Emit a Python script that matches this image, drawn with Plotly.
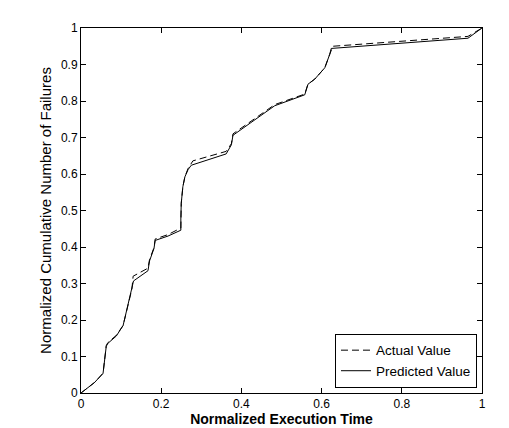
import plotly.graph_objects as go

# curve (normalized execution time vs cumulative failures)
x_actual = [0, 0.034, 0.055, 0.059, 0.063, 0.067, 0.088, 0.105, 0.117, 0.127, 0.130,
            0.167, 0.171, 0.182, 0.185, 0.217, 0.249, 0.249, 0.250, 0.254, 0.259,
            0.267, 0.279, 0.362, 0.375, 0.379, 0.483, 0.558, 0.566, 0.583, 0.608,
            0.620, 0.628, 0.965, 1.0]
y_actual = [0, 0.029, 0.054, 0.085, 0.130, 0.138, 0.158, 0.185, 0.239, 0.285, 0.320,
            0.342, 0.366, 0.398, 0.422, 0.434, 0.452, 0.484, 0.520, 0.565, 0.592,
            0.615, 0.636, 0.662, 0.683, 0.710, 0.790, 0.819, 0.846, 0.860, 0.891,
            0.927, 0.950, 0.977, 1.0]

x_pred = [0, 0.034, 0.055, 0.059, 0.063, 0.067, 0.088, 0.105, 0.117, 0.127, 0.131,
          0.167, 0.171, 0.182, 0.185, 0.217, 0.249, 0.249, 0.250, 0.254, 0.259,
          0.267, 0.275, 0.362, 0.375, 0.379, 0.483, 0.558, 0.566, 0.583, 0.608,
          0.620, 0.624, 0.965, 1.0]
y_pred = [0, 0.029, 0.054, 0.085, 0.128, 0.136, 0.156, 0.185, 0.239, 0.285, 0.307,
          0.335, 0.362, 0.396, 0.418, 0.430, 0.446, 0.480, 0.520, 0.565, 0.592,
          0.612, 0.624, 0.655, 0.680, 0.706, 0.787, 0.817, 0.846, 0.860, 0.891,
          0.927, 0.944, 0.972, 1.0]

x_ticks = [0, 0.2, 0.4, 0.6, 0.8, 1]
x_labels = ['0', '0.2', '0.4', '0.6', '0.8', '1']
y_ticks = [0, 0.1, 0.2, 0.3, 0.4, 0.5, 0.6, 0.7, 0.8, 0.9, 1]
y_labels = ['0', '0.1', '0.2', '0.3', '0.4', '0.5', '0.6', '0.7', '0.8', '0.9', '1']

font = 'Arial, Liberation Sans, sans-serif'

fig = go.Figure()
fig.add_trace(go.Scatter(x=x_actual, y=y_actual, mode='lines', name='Actual Value',
                         line=dict(color='black', width=1, dash='7px,4px')))
fig.add_trace(go.Scatter(x=x_pred, y=y_pred, mode='lines', name='Predicted Value',
                         line=dict(color='black', width=1)))

axis_style = dict(showgrid=False, zeroline=False, showline=True, linecolor='black',
                  linewidth=1, mirror='ticks', ticks='inside', ticklen=5,
                  tickcolor='black', tickfont=dict(family=font, size=12, color='black'))

fig.update_xaxes(range=[0, 1], tickvals=x_ticks, ticktext=x_labels,
                 title=dict(text='<b>Normalized Execution Time</b>', standoff=3,
                            font=dict(family=font, size=14, color='black')),
                 **axis_style)
fig.update_yaxes(range=[0, 1], tickvals=y_ticks, ticktext=y_labels,
                 title=dict(text='Normalized Cumulative Number of Failures', standoff=5,
                            font=dict(family=font, size=15, color='black')),
                 **axis_style)

fig.update_layout(
    width=509, height=428,
    margin=dict(l=73, r=35, t=20, b=40),
    plot_bgcolor='white', paper_bgcolor='white',
    font=dict(family=font, color='black'),
    legend=dict(x=0.9875, y=0.014, xanchor='right', yanchor='bottom',
                bordercolor='black', borderwidth=1, bgcolor='white',
                font=dict(family=font, size=13.5, color='black'),
                itemwidth=30, tracegroupgap=0),
)

fig.write_html("out.html")
